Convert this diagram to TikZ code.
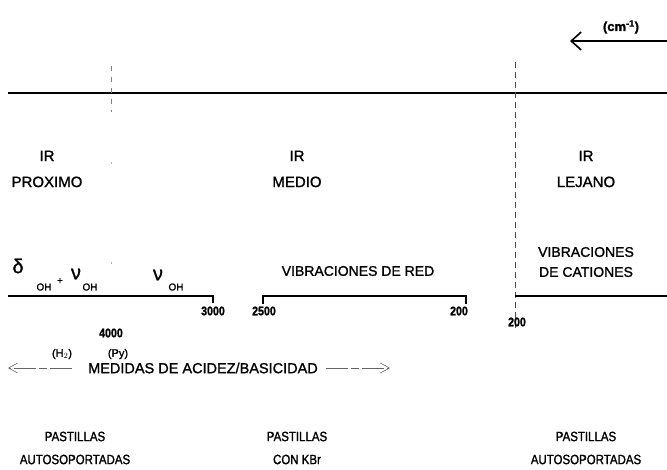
\documentclass[tikz,border=0pt]{standalone}
\usepackage{fontspec}
\setmainfont{Liberation Sans}[FakeBold=1.2]
\newfontfamily\narrowsans{Liberation Sans}[FakeStretch=0.85,FakeBold=1.4]
\usetikzlibrary{arrows.meta}
\tikzset{
  lbl/.style={inner sep=0pt, align=center, font=\fontsize{15}{26}\selectfont},
  vib/.style={inner sep=0pt, align=center, font=\fontsize{14}{20}\selectfont},
  pst/.style={inner sep=0pt, align=center, font=\narrowsans\fontsize{13.5}{23}\selectfont},
  numlbl/.style={inner sep=0pt, font=\narrowsans\bfseries\fontsize{12.5}{13}\selectfont},
  sublbl/.style={inner sep=0pt, font=\fontsize{10}{11}\selectfont},
  greek/.style={inner sep=0pt, font=\fontsize{20}{22}\selectfont},
  smalllbl/.style={inner sep=0pt, font=\fontsize{11}{12}\selectfont},
  mainaxis/.style={line width=1.6pt},
  rangeline/.style={line width=1.4pt},
  vdash/.style={line width=0.7pt, black!70, dash pattern=on 6pt off 4pt},
  vsparse/.style={line width=0.6pt, gray, dash pattern=on 5pt off 6pt},
  vfaint/.style={line width=0.6pt, gray!60, dash pattern=on 2pt off 98pt},
  medarrow/.style={line width=0.6pt, gray!80!black, dash pattern=on 22pt off 3pt on 8pt off 3pt,
    -{Straight Barb[length=9pt,width=10pt,line width=0.6pt]}},
  toparrow/.style={line width=1.3pt, -{Straight Barb[length=10pt,width=18pt,line width=1.6pt]}}
}
\begin{document}
\begin{tikzpicture}[x=1pt,y=-1pt]
\useasboundingbox[fill=white] (0,0) rectangle (667,470);

% top arrow and unit
\coordinate (A0) at (667,41);
\coordinate (A1) at (570,41);
\draw[toparrow] (A0) -- (A1);
\node[inner sep=0pt, font=\bfseries\fontsize{13}{14}\selectfont] (cm) at (621,27) {(cm\textsuperscript{-1})};

% main axis
\coordinate (L0) at (8,93);
\coordinate (L1) at (667,93);
\draw[mainaxis] (L0) -- (L1);

% vertical dashed separators
\coordinate (V1a) at (111,66);
\coordinate (V1b) at (111,112);
\coordinate (V1c) at (111,162);
\coordinate (V1d) at (111,265);
\draw[vsparse] (V1a) -- (V1b);
\draw[vfaint] (V1c) -- (V1d);
\coordinate (V2a) at (515,62);
\coordinate (V2b) at (515,330);
\draw[vdash] (V2a) -- (V2b);

% region labels
\node[lbl] (prox) at (47,169) {IR\\PROXIMO};
\node[lbl] (med) at (297,169) {IR\\MEDIO};
\node[lbl] (lej) at (586,169) {IR\\LEJANO};

% OH vibrations
\node[greek] (d) at (18,266) {δ};
\node[sublbl] (oh1) at (44,287) {OH};
\node[inner sep=0pt, font=\fontsize{10}{10}\selectfont] (plus) at (60,281) {+};
\node[greek] (nu1) at (76,274) {ν};
\node[sublbl] (oh2) at (90,287) {OH};
\node[greek] (nu2) at (158,275) {ν};
\node[sublbl] (oh3) at (176,287) {OH};

\coordinate (R1a) at (8,296);
\coordinate (R1b) at (213,296);
\coordinate (R1c) at (213,303);
\draw[rangeline] (R1a) -- (R1b) -- (R1c);
\node[numlbl] (n3000) at (213,311) {3000};
\node[numlbl] (n4000) at (111,333) {4000};

% lattice vibrations
\node[vib] (vred) at (358,271) {VIBRACIONES DE RED};
\coordinate (R2a) at (263,304);
\coordinate (R2b) at (263,296);
\coordinate (R2c) at (466,296);
\coordinate (R2d) at (466,304);
\draw[rangeline] (R2a) -- (R2b) -- (R2c) -- (R2d);
\node[numlbl] (n2500) at (264,311) {2500};
\node[numlbl] (n200a) at (459,311) {200};

% cation vibrations
\node[vib] (vcat) at (586,262) {VIBRACIONES\\DE CATIONES};
\coordinate (R3a) at (515,296);
\coordinate (R3b) at (667,296);
\draw[rangeline] (R3a) -- (R3b);
\node[numlbl] (n200b) at (517,322) {200};

% acidity / basicity
\node[smalllbl] (h2) at (62,354) {(H$_2$)};
\node[smalllbl] (py) at (118,354) {(Py)};
\node[inner sep=0pt, font=\fontsize{14.5}{16}\selectfont] (medidas) at (203,368) {MEDIDAS DE ACIDEZ/BASICIDAD};
\coordinate (MLs) at (72,368);
\coordinate (ML) at (8,368);
\coordinate (MRs) at (326,368);
\coordinate (MR) at (390,368);
\draw[medarrow] (MLs) -- (ML);
\draw[medarrow] (MRs) -- (MR);

% sample preparation
\node[pst] (p1) at (75,448) {PASTILLAS\\AUTOSOPORTADAS};
\node[pst] (p2) at (297,448) {PASTILLAS\\CON KBr};
\node[pst] (p3) at (586,448) {PASTILLAS\\AUTOSOPORTADAS};
\end{tikzpicture}
\end{document}
